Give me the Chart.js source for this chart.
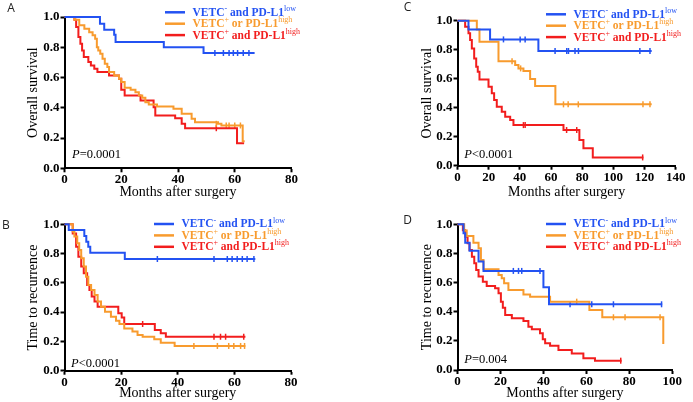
<!DOCTYPE html>
<html><head><meta charset="utf-8">
<script src="https://cdn.jsdelivr.net/npm/chart.js@4.4.1/dist/chart.umd.min.js"></script>
<style>
html,body{margin:0;padding:0;background:#fff;}
#wrap{position:relative;width:693px;height:402px;overflow:hidden;background:#fff}
#wrap canvas{position:absolute}
</style></head><body><div id="wrap"></div>
<script>
// ---------- DATA (months, survival proportion) ----------
const seriesNames = ['VETC- and PD-L1low', 'VETC+ or PD-L1high', 'VETC+ and PD-L1high'];
const legendParts = [
  [['VETC',0],['-',1],[' and PD-L1',0],['low',1]],
  [['VETC',0],['+',1],[' or PD-L1',0],['high',1]],
  [['VETC',0],['+',1],[' and PD-L1',0],['high',1]]
];
const yTickValues = [0, 0.2, 0.4, 0.6, 0.8, 1.0];
const yTickLabels = ['0.0', '0.2', '0.4', '0.6', '0.8', '1.0'];
const xTicksA = [0, 20, 40, 60, 80];
const xTicksB = [0, 20, 40, 60, 80];
const xTicksC = [0, 20, 40, 60, 80, 100, 120, 140];
const xTicksD = [0, 20, 40, 60, 80, 100];

// Panel A: overall survival
const A_blue = [[0,1],[12.5,0.956],[14,0.916],[17.5,0.883],[18,0.834],[35,0.80],[49,0.762],[67,0.762]];
const A_blue_cens = [[53,0.762],[56,0.762],[58,0.762],[59.5,0.762],[61,0.762],[63,0.762],[65,0.762]];
const A_orange = [[0,1],[3.5,0.982],[5.2,0.945],[7,0.923],[8.7,0.90],[9.9,0.879],[10.8,0.856],[11.4,0.80],[11.9,0.779],[12.6,0.757],[13.4,0.724],[14.2,0.691],[15.1,0.669],[15.7,0.636],[17.5,0.614],[19.2,0.592],[20,0.57],[21.2,0.532],[23.3,0.519],[25,0.503],[26.2,0.481],[27.4,0.466],[28.5,0.437],[29.7,0.422],[32.6,0.408],[38.4,0.393],[41.3,0.36],[44.8,0.327],[46,0.305],[54.1,0.294],[55.3,0.283],[62.8,0.178],[63.5,0.178]];
const A_orange_cens = [[53.5,0.294],[57,0.283],[58,0.283],[60,0.283],[62,0.283]];
const A_red = [[0,1],[3.5,0.982],[4.1,0.934],[4.9,0.868],[5.6,0.823],[6.2,0.779],[6.8,0.735],[8.4,0.702],[9.3,0.68],[10.5,0.658],[11.6,0.636],[15.7,0.614],[19.2,0.592],[20,0.519],[21.2,0.481],[26.8,0.448],[31.4,0.404],[32,0.349],[39,0.331],[41.3,0.294],[42.5,0.265],[60.8,0.166],[63.3,0.166]];
const A_red_cens = [[53.5,0.265]];

// Panel B: time to recurrence
const B_blue = [[0,1],[1.5,0.961],[7,0.92],[7.7,0.88],[8.4,0.847],[9.1,0.806],[21.3,0.763],[67.4,0.763]];
const B_blue_cens = [[32.8,0.763],[52.8,0.763],[57.5,0.763],[59.2,0.763],[61,0.763],[62.8,0.763],[64.5,0.763],[66.9,0.763]];
const B_orange = [[0,1],[2.9,0.95],[3.5,0.916],[4.5,0.87],[5.2,0.825],[5.9,0.768],[6.8,0.711],[7.6,0.642],[8.4,0.585],[9.4,0.551],[10.6,0.517],[11.7,0.472],[12.9,0.437],[14.3,0.403],[16.4,0.369],[18.2,0.342],[19.4,0.319],[21.1,0.289],[24,0.267],[25.8,0.244],[27.6,0.232],[31.7,0.214],[34,0.191],[38.9,0.169],[63.9,0.169]];
const B_orange_cens = [[45.7,0.169],[54,0.169],[58,0.169],[59.8,0.169],[62.2,0.169],[63.6,0.169]];
const B_red = [[0,1],[2.9,0.938],[4.1,0.847],[4.9,0.779],[5.9,0.711],[6.8,0.665],[8,0.585],[8.8,0.551],[9.6,0.506],[10.6,0.472],[11.7,0.437],[19,0.392],[20.2,0.364],[21.1,0.319],[31.9,0.278],[34,0.255],[35.8,0.232],[63.9,0.232]];
const B_red_cens = [[27.6,0.319],[52.8,0.232],[55.1,0.232],[56.9,0.232],[63.3,0.232]];

// Panel C: overall survival
const C_blue = [[0,1],[7.05,0.94],[20.9,0.871],[51.9,0.791],[124.6,0.791]];
const C_blue_cens = [[29.5,0.871],[40.2,0.871],[43.4,0.871],[62.6,0.791],[70.1,0.791],[71.2,0.791],[75.4,0.791],[77.6,0.791],[117,0.791],[123.5,0.791]];
const C_orange = [[0,1],[12.4,0.94],[14.1,0.855],[26.3,0.72],[37,0.694],[39.1,0.671],[42.3,0.653],[46.6,0.598],[49.8,0.549],[62.8,0.423],[124.6,0.423]];
const C_orange_cens = [[35,0.72],[40.5,0.671],[68,0.423],[71,0.423],[77.5,0.423],[119,0.423],[123.5,0.423]];
const C_red = [[0,1],[4.9,0.959],[7.05,0.913],[8.1,0.867],[9.2,0.809],[10.7,0.74],[12,0.683],[13,0.648],[14.1,0.595],[19.9,0.545],[22,0.499],[23.5,0.453],[25.2,0.407],[28.4,0.372],[30.6,0.338],[33.8,0.315],[35.9,0.28],[68,0.246],[78.2,0.177],[80.8,0.12],[86.8,0.057],[119.3,0.057]];
const C_red_cens = [[42.3,0.28],[43.4,0.28],[70,0.246],[76.5,0.246],[118.8,0.057]];

// Panel D: time to recurrence
const D_blue = [[0,1],[2.8,0.938],[3.6,0.874],[5.6,0.819],[9.8,0.744],[12.1,0.68],[40,0.568],[42.6,0.451],[95.3,0.451]];
const D_blue_cens = [[26,0.68],[28.4,0.68],[29.9,0.68],[38.4,0.68],[52.4,0.451],[62.5,0.451],[72.6,0.451],[95,0.451]];
const D_orange = [[0,1],[3.1,0.957],[4.3,0.92],[7.4,0.874],[9.8,0.835],[10.9,0.755],[12.1,0.691],[19.1,0.652],[20.6,0.629],[21.7,0.595],[23.7,0.549],[30.7,0.519],[33.8,0.503],[43.1,0.469],[61.4,0.412],[67.4,0.362],[95.8,0.178]];
const D_orange_cens = [[55.5,0.469],[72.6,0.362],[78,0.362],[94.3,0.362]];
const D_red = [[0,1],[2.5,0.96],[3.6,0.915],[4.7,0.87],[5.6,0.824],[6.7,0.778],[7.8,0.732],[8.7,0.686],[9.8,0.641],[11.8,0.606],[13.6,0.577],[17.5,0.561],[19.1,0.526],[20.2,0.469],[21.1,0.428],[22.2,0.378],[25.3,0.355],[30.7,0.336],[33,0.297],[34.6,0.279],[38.4,0.252],[39.7,0.211],[40.8,0.183],[43.1,0.167],[47,0.137],[53.2,0.114],[58.6,0.08],[64,0.064],[76.4,0.064]];
const D_red_cens = [[76,0.064]];

// ---------- STYLE / LAYOUT ----------
const seriesColors = ['#2352f2', '#f89b2e', '#f21d1d'];
const SERIF = '"Liberation Serif","Times New Roman",serif';

const panels = [
  {letter:'A', letterPos:[11,9], yTitle:'Overall survival', xMax:80, xTicks:xTicksA,
   series:[A_blue,A_orange,A_red], cens:[A_blue_cens,A_orange_cens,A_red_cens],
   p:['P','=0.0001'], pPos:[72,155], legendPos:[165,12.3],
   canvas:[0,0,346,201], area:[64.5,17,291.5,168.3], yTitlePad:25},
  {letter:'B', letterPos:[6,225.5], yTitle:'Time to recurrence', xMax:80, xTicks:xTicksB,
   series:[B_blue,B_orange,B_red], cens:[B_blue_cens,B_orange_cens,B_red_cens],
   p:['P','<0.0001'], pPos:[71,363.3], legendPos:[154,224],
   canvas:[0,201,346,201], area:[64.5,224.3,291,370.7], yTitlePad:25},
  {letter:'C', letterPos:[407.5,7.5], yTitle:'Overall survival', xMax:140, xTicks:xTicksC,
   series:[C_blue,C_orange,C_red], cens:[C_blue_cens,C_orange_cens,C_red_cens],
   p:['P','<0.0001'], pPos:[464.3,155], legendPos:[546,14.3],
   canvas:[346,0,347,201], area:[457.5,20.7,675.7,165.7], yTitlePad:73},
  {letter:'D', letterPos:[407.5,220.5], yTitle:'Time to recurrence', xMax:100, xTicks:xTicksD,
   series:[D_blue,D_orange,D_red], cens:[D_blue_cens,D_orange_cens,D_red_cens],
   p:['P','=0.004'], pPos:[464.3,359.3], legendPos:[546,224],
   canvas:[346,201,347,201], area:[457.5,224.3,672.3,370], yTitlePad:73}
];

const overlay = {
  id:'overlay',
  afterDraw(chart){
    const o = chart.options.plugins.overlay;
    const ctx = chart.ctx, cv = o.canvas;
    ctx.save();
    // panel letter
    ctx.font = '12px "Open Sans", sans-serif';
    ctx.fillStyle = '#222'; ctx.textAlign = 'center'; ctx.textBaseline = 'middle';
    ctx.fillText(o.letter, o.letterPos[0]-cv[0], o.letterPos[1]-cv[1]);
    // P value
    ctx.textAlign = 'left'; ctx.fillStyle = '#000';
    let x = o.pPos[0]-cv[0]; const y = o.pPos[1]-cv[1];
    ctx.font = 'italic 12.5px ' + SERIF; ctx.fillText(o.p[0], x, y);
    x += ctx.measureText(o.p[0]).width;
    ctx.font = '12.5px ' + SERIF; ctx.fillText(o.p[1], x, y);
    // legend
    const lx = o.legendPos[0]-cv[0], ly0 = o.legendPos[1]-cv[1];
    chart.data.datasets.forEach(ds => {
      if (ds.legendIndex === undefined) return;
      const i = ds.legendIndex, ly = ly0 + i*11.4;
      ctx.strokeStyle = ds.borderColor; ctx.lineWidth = 2.5; ctx.lineCap = 'butt';
      ctx.beginPath(); ctx.moveTo(lx, ly); ctx.lineTo(lx+20, ly); ctx.stroke();
      let tx = lx + 27.5;
      ctx.fillStyle = ds.borderColor; ctx.textBaseline = 'middle';
      legendParts[i].forEach(([t,sup]) => {
        if (sup) { ctx.font = '8px ' + SERIF; ctx.fillText(t, tx, ly-3.5); }
        else { ctx.font = 'bold 11.5px ' + SERIF; ctx.fillText(t, tx, ly+0.5); }
        tx += ctx.measureText(t).width;
      });
    });
    ctx.restore();
  }
};

const wrap = document.getElementById('wrap');
panels.forEach(p => {
  const [cl, ct, cw, ch] = p.canvas;
  const [al, at, ar, ab] = p.area;
  const cv = document.createElement('canvas');
  cv.width = cw; cv.height = ch;
  cv.style.left = cl+'px'; cv.style.top = ct+'px';
  cv.style.width = cw+'px'; cv.style.height = ch+'px';
  wrap.appendChild(cv);
  const datasets = [];
  p.series.forEach((s,i) => datasets.push({
    type:'line', label:seriesNames[i], legendIndex:i,
    data:s.map(([x,y]) => ({x,y})), borderColor:seriesColors[i], backgroundColor:seriesColors[i],
    borderWidth:2, stepped:true, pointRadius:0, fill:false, clip:false,
    borderJoinStyle:'miter', borderCapStyle:'butt'
  }));
  p.cens.forEach((s,i) => datasets.push({
    type:'scatter', label:seriesNames[i]+' censored',
    data:s.map(([x,y]) => ({x,y})), borderColor:seriesColors[i], backgroundColor:seriesColors[i],
    showLine:false, pointStyle:'line', rotation:90, pointRadius:3, borderWidth:1.5, clip:false
  }));
  new Chart(cv.getContext('2d'), {
    type:'line',
    data:{datasets},
    options:{
      responsive:false, animation:false, devicePixelRatio:1, events:[],
      layout:{padding:{left:0, bottom:0, top:at-ct, right:(cl+cw)-ar}},
      plugins:{legend:{display:false}, tooltip:{enabled:false},
        overlay:{letter:p.letter, letterPos:p.letterPos, p:p.p, pPos:p.pPos, legendPos:p.legendPos, canvas:p.canvas}},
      scales:{
        x:{type:'linear', min:0, max:p.xMax,
          afterBuildTicks:s => { s.ticks = p.xTicks.map(v => ({value:v})); },
          afterFit:s => { s.height = (ct+ch) - ab; },
          ticks:{font:{family:SERIF, size:13, weight:'bold'}, color:'#000', padding:0, maxRotation:0, autoSkip:false, callback:v => String(v)},
          grid:{display:true, drawOnChartArea:false, drawTicks:true, tickLength:4, tickWidth:2, tickColor:'#000'},
          border:{display:true, color:'#000', width:2},
          title:{display:true, text:'Months after surgery', font:{family:SERIF, size:14}, color:'#000', padding:{top:0, bottom:0}}
        },
        y:{type:'linear', min:0, max:1,
          afterBuildTicks:s => { s.ticks = yTickValues.map(v => ({value:v})); },
          afterFit:s => { s.width = al - cl; },
          ticks:{font:{family:SERIF, size:13, weight:'bold'}, color:'#000', padding:1, autoSkip:false,
            callback:(v) => yTickLabels[yTickValues.findIndex(t => Math.abs(t-v) < 1e-9)]},
          grid:{display:true, drawOnChartArea:false, drawTicks:true, tickLength:4, tickWidth:2, tickColor:'#000'},
          border:{display:true, color:'#000', width:2},
          title:{display:true, text:p.yTitle, font:{family:SERIF, size:14}, color:'#000', padding:{top:p.yTitlePad, bottom:0}}
        }
      }
    },
    plugins:[overlay]
  });
});
</script>
</body></html>
